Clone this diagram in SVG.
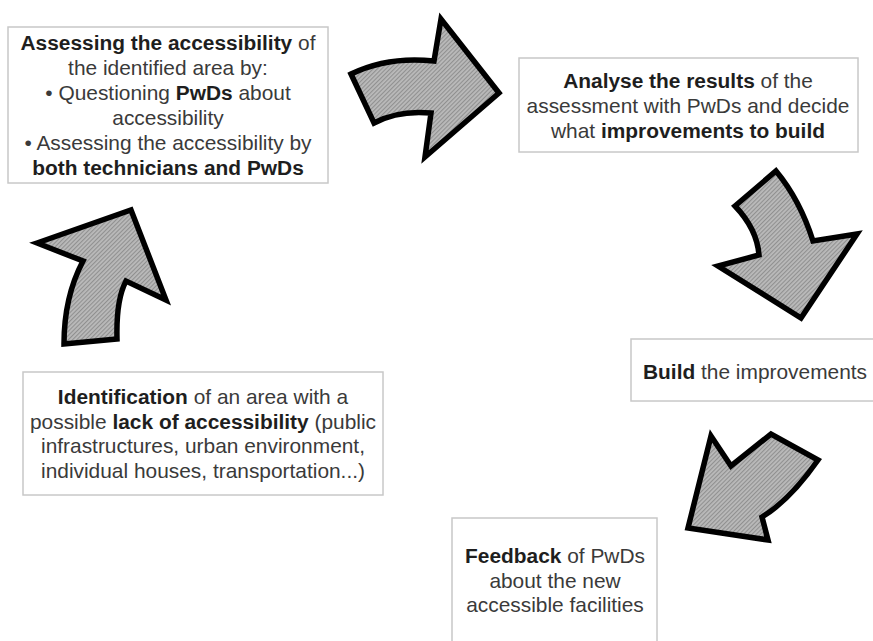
<svg xmlns="http://www.w3.org/2000/svg" width="873" height="641" viewBox="0 0 873 641">
<style>
.box{fill:#fff;stroke:#c8c8c8;stroke-width:1.5}
.t{font-family:"Liberation Sans",Arial,sans-serif;font-size:20.9px;fill:#3a3a3a;text-anchor:middle}
.b{font-weight:bold;fill:#1e1e1e}
.arrow{fill:url(#hatch);stroke:#000;stroke-width:5.5;stroke-linejoin:miter;stroke-miterlimit:10}
</style>
<defs>
<pattern id="hatch" width="3" height="3" patternUnits="userSpaceOnUse" patternTransform="rotate(45)">
<rect width="3" height="3" fill="#bababa"/>
<rect width="1.1" height="3" fill="#909090"/>
</pattern>
</defs>
<rect width="873" height="641" fill="#fff"/>
<g id="connectors">
<path class="arrow" d="M 351 74 Q 388 56 434 61 L 441 19 L 499 93 L 425 157 L 431 113 Q 398 110 374 123 Z"/>
<path class="arrow" d="M 735 206 L 776 171 Q 800 200 813 241 L 857 234 L 801 318 L 718 266 L 759 255 Q 757 229 735 206 Z"/>
<path class="arrow" d="M 711 436 L 731 466 L 771 434 L 818 460 Q 790 500 762 517 L 768 540 L 688 528 Z"/>
<path class="arrow" d="M 37 243 L 131 210 L 166 300 L 126 281 Q 116 300 117 339 L 64 344 Q 64 297 83 261 Z"/>
</g>
<g id="node-assess">
<rect class="box" x="8" y="27" width="320" height="156"/>
<text class="t" x="168" y="50"><tspan class="b">Assessing the accessibility</tspan> of</text>
<text class="t" x="168" y="75">the identified area by:</text>
<text class="t" x="168" y="100">• Questioning <tspan class="b">PwDs</tspan> about</text>
<text class="t" x="168" y="125">accessibility</text>
<text class="t" x="168" y="150">• Assessing the accessibility by</text>
<text class="t" x="168" y="175"><tspan class="b">both technicians and PwDs</tspan></text>
</g>
<g id="node-analyse">
<rect class="box" x="519" y="58" width="339" height="94"/>
<text class="t" x="688" y="88"><tspan class="b">Analyse the results</tspan> of the</text>
<text class="t" x="688" y="113">assessment with PwDs and decide</text>
<text class="t" x="688" y="138">what <tspan class="b">improvements to build</tspan></text>
</g>
<g id="node-build">
<rect class="box" x="631" y="339" width="250" height="62"/>
<text class="t" x="643" y="379" style="text-anchor:start"><tspan class="b">Build</tspan> the improvements</text>
</g>
<g id="node-feedback">
<rect class="box" x="452" y="518" width="205" height="140"/>
<text class="t" x="555" y="563"><tspan class="b">Feedback</tspan> of PwDs</text>
<text class="t" x="555" y="588">about the new</text>
<text class="t" x="555" y="612">accessible facilities</text>
</g>
<g id="node-identify">
<rect class="box" x="23" y="372" width="360" height="123"/>
<text class="t" x="203" y="404"><tspan class="b">Identification</tspan> of an area with a</text>
<text class="t" x="203" y="429">possible <tspan class="b">lack of accessibility</tspan> (public</text>
<text class="t" x="203" y="453">infrastructures, urban environment,</text>
<text class="t" x="203" y="478">individual houses, transportation...)</text>
</g>
</svg>
